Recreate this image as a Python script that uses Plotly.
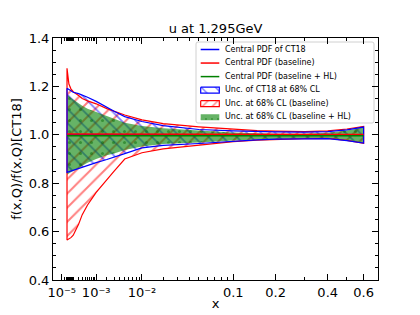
import plotly.graph_objects as go

# ---------------- data ----------------
x_vals = [3.5e-5, 4e-5, 5e-5, 7e-5, 1e-4, 2e-4, 3e-4, 5e-4, 1e-3, 2e-3, 3e-3, 5e-3,
          0.01, 0.02, 0.05, 0.1, 0.15, 0.2, 0.3, 0.4, 0.5, 0.6]

ct18_central = [1.0, 1.0, 1.0, 1.0, 1.0, 1.0, 1.0, 1.0, 1.0, 1.0, 1.0, 1.0,
                1.0, 1.0, 1.0, 1.0, 1.0, 1.0, 1.0, 1.0, 1.0, 1.0]
base_central = [1.003, 1.003, 1.003, 1.003, 1.003, 1.003, 1.003, 1.003, 1.003, 1.003, 1.003, 1.002,
                1.002, 1.002, 1.002, 1.001, 1.001, 1.001, 1.001, 1.001, 1.001, 1.001]
hl_central = [0.996, 0.996, 0.996, 0.996, 0.996, 0.996, 0.996, 0.996, 0.996, 0.996, 0.996, 0.996,
              0.996, 0.996, 0.996, 0.996, 0.996, 0.996, 0.996, 0.996, 0.996, 0.996]

ct18_upper = [1.192, 1.19, 1.185, 1.18, 1.176, 1.17, 1.165, 1.155, 1.138, 1.113, 1.097, 1.075,
              1.055, 1.038, 1.022, 1.016, 1.013, 1.012, 1.011, 1.013, 1.02, 1.032]
ct18_lower = [0.845, 0.846, 0.848, 0.85, 0.853, 0.86, 0.866, 0.873, 0.885, 0.898, 0.906, 0.922,
              0.946, 0.956, 0.964, 0.974, 0.979, 0.982, 0.984, 0.984, 0.976, 0.966]

base_upper = [1.275, 1.25, 1.21, 1.19, 1.178, 1.162, 1.15, 1.14, 1.128, 1.108, 1.097, 1.082,
              1.062, 1.046, 1.033, 1.023, 1.017, 1.015, 1.013, 1.016, 1.024, 1.035]
base_lower = [0.565, 0.565, 0.568, 0.575, 0.585, 0.63, 0.67, 0.71, 0.762, 0.815, 0.85, 0.9,
              0.926, 0.942, 0.958, 0.972, 0.978, 0.981, 0.984, 0.985, 0.977, 0.965]

hl_upper = [1.167, 1.165, 1.16, 1.153, 1.146, 1.13, 1.12, 1.108, 1.094, 1.078, 1.066, 1.05,
            1.036, 1.027, 1.018, 1.01, 1.006, 1.004, 1.004, 1.008, 1.018, 1.03]
hl_lower = [0.835, 0.836, 0.84, 0.845, 0.85, 0.862, 0.872, 0.885, 0.9, 0.915, 0.923, 0.937,
            0.952, 0.962, 0.968, 0.976, 0.981, 0.983, 0.985, 0.985, 0.976, 0.965]

major_ticks = [1e-5, 1e-3, 1e-2, 0.1, 0.2, 0.4, 0.6]
major_labels = ["10\u207b\u2075", "10\u207b\u00b3", "10\u207b\u00b2", "0.1", "0.2", "0.4", "0.6"]
minor_ticks = ([m * 1e-5 for m in range(2, 10)] + [m * 1e-4 for m in range(1, 10)] +
               [m * 1e-3 for m in range(2, 10)] + [m * 1e-2 for m in range(2, 10)] + [0.3, 0.5])

legend_labels = ["Central PDF of CT18", "Central PDF (baseline)", "Central PDF (baseline + HL)",
                 "Unc. of CT18 at 68% CL", "Unc. at 68% CL (baseline)", "Unc. at 68% CL (baseline + HL)"]

POW = 0.3  # x-axis drawn on an x^0.3 scale


def tr(v):
    return [t ** POW for t in v]


BLUE = "#0000ff"
RED = "#ff0000"
GREEN = "#008000"
GREEN_FILL = "rgba(0,128,0,0.6)"
FONT = "DejaVu Sans"

u = tr(x_vals)
poly_x = u + u[::-1]

fig = go.Figure()

# hatched bands
fig.add_trace(go.Scatter(x=poly_x, y=base_upper + base_lower[::-1], fill="toself", mode="none",
                         fillcolor="rgba(0,0,0,0)",
                         fillpattern=dict(shape="/", fgcolor=RED, bgcolor="rgba(0,0,0,0)",
                                          size=10, solidity=0.2),
                         showlegend=False, hoverinfo="skip"))
fig.add_trace(go.Scatter(x=poly_x, y=ct18_upper + ct18_lower[::-1], fill="toself", mode="none",
                         fillcolor="rgba(0,0,0,0)",
                         fillpattern=dict(shape="\\", fgcolor=BLUE, bgcolor="rgba(0,0,0,0)",
                                          size=10, solidity=0.18),
                         showlegend=False, hoverinfo="skip"))
# green band
fig.add_trace(go.Scatter(x=poly_x, y=hl_upper + hl_lower[::-1], fill="toself", mode="none",
                         fillcolor=GREEN_FILL,
                         fillpattern=dict(shape=".", fgcolor="rgba(0,100,0,0.9)", bgcolor=GREEN_FILL,
                                          size=11, solidity=0.06),
                         showlegend=False, hoverinfo="skip"))
# band outlines
fig.add_trace(go.Scatter(x=poly_x + [u[0]], y=base_upper + base_lower[::-1] + [base_upper[0]],
                         mode="lines", line=dict(color=RED, width=1.2),
                         showlegend=False, hoverinfo="skip"))
fig.add_trace(go.Scatter(x=poly_x + [u[0]], y=ct18_upper + ct18_lower[::-1] + [ct18_upper[0]],
                         mode="lines", line=dict(color=BLUE, width=1.2),
                         showlegend=False, hoverinfo="skip"))
# central lines
fig.add_trace(go.Scatter(x=u, y=ct18_central, mode="lines", line=dict(color=BLUE, width=1.5),
                         showlegend=False))
fig.add_trace(go.Scatter(x=u, y=base_central, mode="lines", line=dict(color=RED, width=1.5),
                         showlegend=False))
fig.add_trace(go.Scatter(x=u, y=hl_central, mode="lines", line=dict(color=GREEN, width=1.5),
                         showlegend=False))

# ---------------- hand-drawn legend (pixel-like overlay axes) ----------------
L, R, T, B = 53, 378, 38, 280
box_l, box_r, box_t, box_b = 196, 374, 42, 123
row0, drow = 49.5, 13.55
sym_l, sym_r, txt_x = 200.7, 219.3, 225.0

r = 2
fig.add_shape(type="path", xref="x2", yref="y2", layer="below",
              path=(f"M{box_l + r},{box_t} L{box_r - r},{box_t} Q{box_r},{box_t} {box_r},{box_t + r} "
                    f"L{box_r},{box_b - r} Q{box_r},{box_b} {box_r - r},{box_b} "
                    f"L{box_l + r},{box_b} Q{box_l},{box_b} {box_l},{box_b - r} "
                    f"L{box_l},{box_t + r} Q{box_l},{box_t} {box_l + r},{box_t} Z"),
              fillcolor="rgba(255,255,255,0.8)", line=dict(color="#d0d0d0", width=1))

line_cols = [BLUE, RED, GREEN]
for i, c in enumerate(line_cols):
    yy = row0 + i * drow
    fig.add_trace(go.Scatter(x=[sym_l, sym_r], y=[yy, yy], mode="lines", xaxis="x2", yaxis="y2",
                             line=dict(color=c, width=1.5), showlegend=False, hoverinfo="skip"))

patch_styles = [
    dict(fillcolor="rgba(255,255,255,1)",
         fillpattern=dict(shape="\\", fgcolor=BLUE, bgcolor="white", size=10, solidity=0.15),
         line=dict(color=BLUE, width=1.2)),
    dict(fillcolor="rgba(255,255,255,1)",
         fillpattern=dict(shape="/", fgcolor=RED, bgcolor="white", size=7, solidity=0.2),
         line=dict(color=RED, width=1.2)),
    dict(fillcolor=GREEN_FILL,
         fillpattern=dict(shape=".", fgcolor="rgba(0,100,0,0.9)", bgcolor=GREEN_FILL, size=6,
                          solidity=0.08),
         line=dict(color="rgba(0,128,0,0)", width=0)),
]
for j, st in enumerate(patch_styles):
    yy = row0 + (j + 3) * drow
    h = 3.0
    fig.add_trace(go.Scatter(x=[sym_l, sym_r, sym_r, sym_l, sym_l],
                             y=[yy - h, yy - h, yy + h, yy + h, yy - h],
                             fill="toself", mode="lines", xaxis="x2", yaxis="y2",
                             showlegend=False, hoverinfo="skip", **st))

# legend labels as a text trace
fig.add_trace(go.Scatter(x=[txt_x] * len(legend_labels),
                         y=[row0 + i * drow for i in range(len(legend_labels))],
                         text=legend_labels, mode="text", textposition="middle right",
                         textfont=dict(family=FONT, size=8, color="black"),
                         xaxis="x2", yaxis="y2", showlegend=False, hoverinfo="skip",
                         cliponaxis=False))

axis_common = dict(showline=True, linecolor="black", linewidth=1, mirror="ticks",
                   ticks="inside", ticklen=6, tickwidth=1, tickcolor="black",
                   showgrid=False, zeroline=False, automargin=False,
                   tickfont=dict(family=FONT, size=13, color="black"))

fig.update_layout(
    width=420, height=315, autosize=False,
    margin=dict(l=L, r=420 - R, t=T, b=315 - B, pad=0),
    paper_bgcolor="white", plot_bgcolor="white",
    showlegend=False,
    title=dict(text="u at 1.295GeV", x=0.5, xref="paper", xanchor="center",
               y=1 - 28 / 315, yref="container", yanchor="middle",
               font=dict(family=FONT, size=13, color="black")),
    xaxis=dict(range=[0.0077, 0.8973], tickmode="array", tickvals=tr(major_ticks),
               ticktext=major_labels,
               minor=dict(tickmode="array", tickvals=tr(minor_ticks), ticks="inside", ticklen=3,
                          tickcolor="black", tickwidth=1, showgrid=False),
               title=dict(text="x", font=dict(family=FONT, size=13, color="black"), standoff=0),
               **axis_common),
    yaxis=dict(range=[0.4, 1.4], tickmode="array",
               tickvals=[0.4, 0.6, 0.8, 1.0, 1.2, 1.4],
               ticktext=["0.4", "0.6", "0.8", "1.0", "1.2", "1.4"],
               minor=dict(tickmode="linear", tick0=0.4, dtick=0.05, ticks="inside", ticklen=3,
                          tickcolor="black", tickwidth=1, showgrid=False),
               title=dict(text="f(x,Q)/f(x,Q)[CT18]", font=dict(family=FONT, size=13, color="black"),
                          standoff=4),
               **axis_common),
    xaxis2=dict(overlaying="x", range=[L, R], visible=False, fixedrange=True),
    yaxis2=dict(overlaying="y", range=[B, T], visible=False, fixedrange=True),
)

fig.write_html("out.html", config={"displayModeBar": False},
               post_script="document.body.style.margin='0';")
